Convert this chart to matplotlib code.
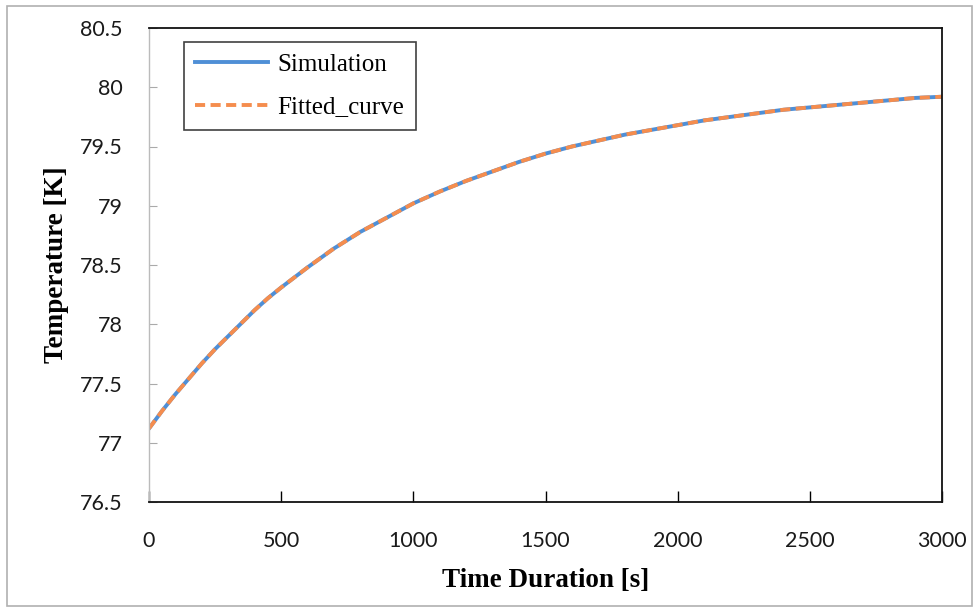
import matplotlib
matplotlib.use("Agg")
import matplotlib.pyplot as plt
from matplotlib.patches import Rectangle

# Temperature rise over time, simulated and fitted
time_s = [0, 50, 100, 150, 200, 250, 300, 350, 400, 450, 500, 600, 700, 800, 900, 1000,
          1100, 1200, 1300, 1400, 1500, 1600, 1700, 1800, 1900, 2000,
          2100, 2200, 2300, 2400, 2500, 2600, 2700, 2800, 2900, 3000]
simulation_k = [77.12, 77.27, 77.41, 77.54, 77.67, 77.79, 77.90, 78.01, 78.12, 78.22,
                78.31, 78.48, 78.64, 78.78, 78.90, 79.02,
                79.12, 79.21, 79.29, 79.37, 79.44, 79.50, 79.55, 79.60, 79.64, 79.68,
                79.72, 79.75, 79.78, 79.81, 79.83, 79.85, 79.87, 79.89, 79.91, 79.92]
fitted_k = [77.12, 77.27, 77.41, 77.54, 77.67, 77.79, 77.90, 78.01, 78.12, 78.22,
            78.31, 78.48, 78.64, 78.78, 78.90, 79.02,
            79.12, 79.21, 79.29, 79.37, 79.44, 79.50, 79.55, 79.60, 79.64, 79.68,
            79.72, 79.75, 79.78, 79.81, 79.83, 79.85, 79.87, 79.89, 79.91, 79.92]

x_ticks = [0, 500, 1000, 1500, 2000, 2500, 3000]
y_ticks = [76.5, 77, 77.5, 78, 78.5, 79, 79.5, 80, 80.5]

TICK_FONT = "Lato"
LABEL_FONT = "Liberation Serif"

fig = plt.figure(figsize=(9.77, 6.08), dpi=100)
ax = fig.add_axes([149 / 977, 1 - 502 / 608, (942 - 149) / 977, (502 - 28) / 608])

ax.plot(time_s, simulation_k, color="#4f8fd6", linewidth=2.8, label="Simulation")
ax.plot(time_s, fitted_k, color="#f58d4e", linewidth=2.8, linestyle=(0, (2.6, 1.4)),
        label="Fitted_curve")

ax.set_xlim(0, 3000)
ax.set_ylim(76.5, 80.5)
ax.set_xticks(x_ticks)
ax.set_yticks(y_ticks)
ax.set_xticklabels([str(t) for t in x_ticks])
ax.set_yticklabels([f"{v:g}" for v in y_ticks])
ax.tick_params(axis="x", direction="in", length=8, width=1.0, pad=21,
               labelsize=15.5)
ax.tick_params(axis="y", direction="in", length=6, width=0.8, pad=19,
               labelsize=15.5, color="#aaaaaa")
for lab in ax.get_xticklabels() + ax.get_yticklabels():
    lab.set_fontfamily(TICK_FONT)
    lab.set_color("#1a1a1a")

for side in ("top", "right", "bottom"):
    ax.spines[side].set_color("#111111")
    ax.spines[side].set_linewidth(1.3)
ax.spines["left"].set_color("#bbbbbb")
ax.spines["left"].set_linewidth(1.0)

ax.set_xlabel("Time Duration [s]", fontfamily=LABEL_FONT, fontweight="bold",
              fontsize=19.5, labelpad=12)
ax.set_ylabel("Temperature [K]", fontfamily=LABEL_FONT, fontweight="bold",
              fontsize=19.5, labelpad=8)

leg = ax.legend(loc="upper left", bbox_to_anchor=(0.044, 0.97), frameon=True,
                fancybox=False, edgecolor="#111111", handlelength=2.9,
                borderpad=0.45, labelspacing=0.8, handletextpad=0.4,
                borderaxespad=0, prop={"family": LABEL_FONT, "size": 18})
leg.get_frame().set_linewidth(1.2)

# chart frame around the whole figure
fig.patches.append(Rectangle((7 / 977, 1 - 606 / 608), 965 / 977, 600 / 608,
                             transform=fig.transFigure, fill=False,
                             edgecolor="#b0b0b0", linewidth=1.2))

fig.savefig("out.png", dpi=100)
